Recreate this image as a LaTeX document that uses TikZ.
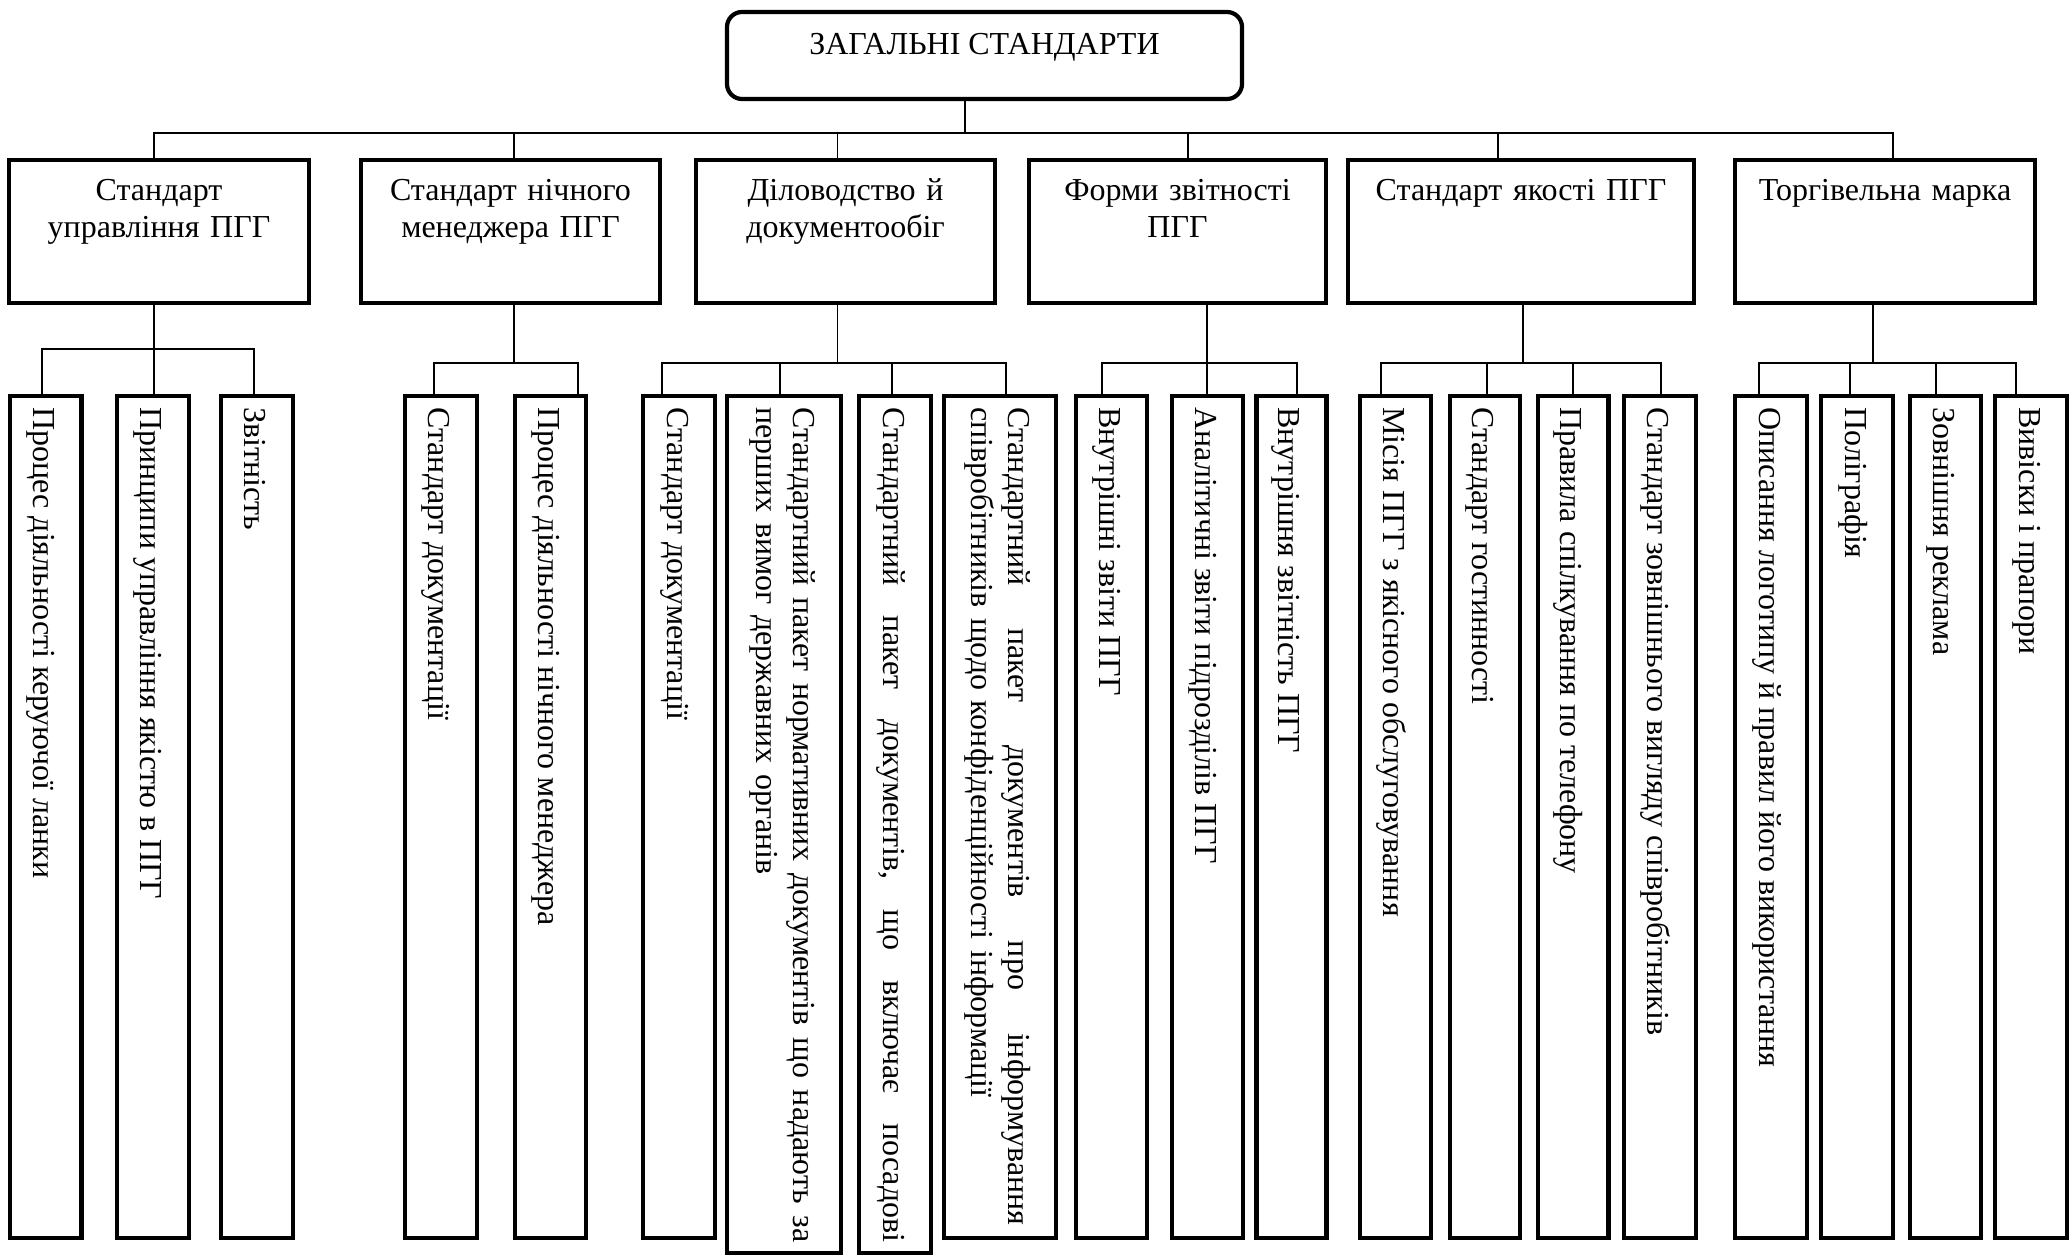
\documentclass[tikz,border=0pt]{standalone}
\usepackage{fontspec}
\setmainfont{Liberation Serif}
\usetikzlibrary{fit}
\newcommand{\labelfont}{\fontsize{16pt}{18.2pt}\selectfont}
\begin{document}
\begin{tikzpicture}[x=0.5pt,y=-0.5pt,
  frame/.style={draw, line width=2.1pt, inner sep=0pt},
  topframe/.style={frame, rounded corners=7.5pt},
  link/.style={line width=0.9pt},
  htext/.style={inner sep=0pt, anchor=base, align=center, font=\labelfont},
  vtext/.style={inner sep=0pt, rotate=-90, anchor=base west, align=left, font=\labelfont}]
\useasboundingbox (0,0) rectangle (2071,1256);
\fill[white] (0,0) rectangle (2071,1256);

% ---------- root ----------
\node[topframe, fit={(727,12) (1242,99)}] (root) {};
\node[htext] (roott) at (984.5,55) {ЗАГАЛЬНІ СТАНДАРТИ};

% ---------- first level ----------
\node[frame, fit={(9,160) (309,303)}]    (b1) {};
\node[frame, fit={(361,160) (660,303)}]  (b2) {};
\node[frame, fit={(696,160) (995,303)}]  (b3) {};
\node[frame, fit={(1029,160) (1326,303)}] (b4) {};
\node[frame, fit={(1348,160) (1694,303)}] (b5) {};
\node[frame, fit={(1735,160) (2035,303)}] (b6) {};

\node[htext, text width=145pt] (t1) at (159,201)    {Стандарт\\управління ПГГ};
\node[htext, text width=145pt] (t2) at (510.5,201)  {Стандарт нічного\\менеджера ПГГ};
\node[htext, text width=145pt] (t3) at (845.5,201)  {Діловодство й\\документообіг};
\node[htext, text width=145pt] (t4) at (1177.5,201) {Форми звітності\\ПГГ};
\node[htext, text width=170pt] (t5) at (1521,201)   {Стандарт якості ПГГ};
\node[htext, text width=145pt] (t6) at (1885,201)   {Торгівельна марка};

% ---------- second level ----------
\node[frame, fit={(10,396) (81.5,1238)}]      (L1a) {};
\node[frame, fit={(117,396) (188.6,1238)}]    (L1b) {};
\node[frame, fit={(220.75,396) (292.6,1238)}] (L1c) {};
\node[frame, fit={(405,396) (476.6,1238)}]    (L2a) {};
\node[frame, fit={(515,396) (586,1238)}]      (L2b) {};
\node[frame, fit={(643,396) (715,1238)}]      (L3a) {};
\node[frame, fit={(727,396) (841,1253)}]      (L3b) {};
\node[frame, fit={(859,396) (931,1253)}]      (L3c) {};
\node[frame, fit={(944,396) (1056,1238)}]     (L3d) {};
\node[frame, fit={(1076,396) (1147,1238)}]    (L4a) {};
\node[frame, fit={(1172,396) (1243,1238)}]    (L4b) {};
\node[frame, fit={(1256.4,396) (1326.5,1238)}] (L4c) {};
\node[frame, fit={(1360,396) (1431,1238)}]    (L5a) {};
\node[frame, fit={(1450,396) (1520,1238)}]    (L5b) {};
\node[frame, fit={(1538,396) (1608.5,1238)}]  (L5c) {};
\node[frame, fit={(1624,396) (1695.6,1238)}]  (L5d) {};
\node[frame, fit={(1735,396) (1807,1238)}]    (L6a) {};
\node[frame, fit={(1821,396) (1893,1238)}]    (L6b) {};
\node[frame, fit={(1910,396) (1981,1238)}]    (L6c) {};
\node[frame, fit={(1995,396) (2067,1238)}]    (L6d) {};

% rotated labels (reading downwards)
\node[vtext] (v1a) at (33.5,407)   {Процес діяльності керуючої ланки};
\node[vtext] (v1b) at (140.6,407)  {Принципи управління якістю в ПГГ};
\node[vtext] (v1c) at (244.6,407)  {Звітність};
\node[vtext] (v2a) at (428.6,407)  {Стандарт документації};
\node[vtext] (v2b) at (538,407)    {Процес діяльності нічного менеджера};
\node[vtext] (v3a) at (667,407)    {Стандарт документації};
\node[vtext, text width=420pt] (v3b) at (793,407)
  {\makebox[417.5pt][l]{Стандартний \hfill пакет \hfill нормативних \hfill документів \hfill що \hfill надають \hfill за}\\
   перших вимог державних органів};
\node[vtext] (v3c) at (883,407)
  {\makebox[417.5pt][l]{Стандартний \hfill пакет \hfill документів, \hfill що \hfill включає \hfill посадові}};
\node[vtext, text width=420pt] (v3d) at (1008,407)
  {\makebox[409pt][l]{Стандартний \hfill пакет \hfill документів \hfill про \hfill інформування}\\
   співробітників щодо конфіденційності інформації};
\node[vtext] (v4a) at (1099,407)   {Внутрішні звіти ПГГ};
\node[vtext] (v4b) at (1195,407)   {Аналітичні звіти підрозділів ПГГ};
\node[vtext] (v4c) at (1278.5,407) {Внутрішня звітність ПГГ};
\node[vtext] (v5a) at (1383,407)   {Місія ПГГ з якісного обслуговування};
\node[vtext] (v5b) at (1472,407)   {Стандарт гостинності};
\node[vtext] (v5c) at (1560.5,407) {Правила спілкування по телефону};
\node[vtext] (v5d) at (1647.6,407) {Стандарт зовнішнього вигляду співробітників};
\node[vtext] (v6a) at (1759,407)   {Описання логотипу й правил його використання};
\node[vtext] (v6b) at (1845,407)   {Поліграфія};
\node[vtext] (v6c) at (1933,407)   {Зовнішня реклама};
\node[vtext] (v6d) at (2019,407)   {Вивіски і прапори};

% ---------- connectors: root to first level ----------
\coordinate (r0) at (965,132.7);
\coordinate (d1) at (154,132.7);
\coordinate (d2) at (514,132.7);
\coordinate (d3) at (837.5,132.7);
\coordinate (d4) at (1188,132.7);
\coordinate (d5) at (1498,132.7);
\coordinate (d6) at (1893,132.7);
\draw[link] (root.south -| r0) -- (r0);
\draw[link] (b1.north -| d1) |- (d6) -- (b6.north -| d6);
\foreach \k in {2,3,4,5} \draw[link] (d\k) -- (b\k.north -| d\k);

% ---------- connectors: first to second level ----------
% group 1
\coordinate (e1a) at (42,349);
\coordinate (e1b) at (154,349);
\coordinate (e1c) at (254,349);
\draw[link] (L1a.north -| e1a) |- (e1c) -- (L1c.north -| e1c);
\draw[link] (b1.south -| e1b) -- (L1b.north -| e1b);
% group 2
\coordinate (g2) at (514,362.7);
\coordinate (e2a) at (434,362.7);
\coordinate (e2b) at (578,362.7);
\draw[link] (L2a.north -| e2a) |- (e2b) -- (L2b.north -| e2b);
\draw[link] (b2.south -| g2) -- (g2);
% group 3
\coordinate (g3) at (837.5,362.7);
\coordinate (e3a) at (662,362.7);
\coordinate (e3b) at (780,362.7);
\coordinate (e3c) at (892,362.7);
\coordinate (e3d) at (1006,362.7);
\draw[link] (L3a.north -| e3a) |- (e3d) -- (L3d.north -| e3d);
\draw[link] (e3b) -- (L3b.north -| e3b);
\draw[link] (e3c) -- (L3c.north -| e3c);
\draw[link] (b3.south -| g3) -- (g3);
% group 4
\coordinate (e4a) at (1101.7,362.7);
\coordinate (e4b) at (1206.6,362.7);
\coordinate (e4c) at (1297,362.7);
\draw[link] (L4a.north -| e4a) |- (e4c) -- (L4c.north -| e4c);
\draw[link] (b4.south -| e4b) -- (L4b.north -| e4b);
% group 5
\coordinate (g5) at (1522.7,362.7);
\coordinate (e5a) at (1380.6,362.7);
\coordinate (e5b) at (1486.8,362.7);
\coordinate (e5c) at (1573,362.7);
\coordinate (e5d) at (1660.8,362.7);
\draw[link] (L5a.north -| e5a) |- (e5d) -- (L5d.north -| e5d);
\draw[link] (e5b) -- (L5b.north -| e5b);
\draw[link] (e5c) -- (L5c.north -| e5c);
\draw[link] (b5.south -| g5) -- (g5);
% group 6
\coordinate (g6) at (1873,362.7);
\coordinate (e6a) at (1759,362.7);
\coordinate (e6b) at (1850,362.7);
\coordinate (e6c) at (1936,362.7);
\coordinate (e6d) at (2016,362.7);
\draw[link] (L6a.north -| e6a) |- (e6d) -- (L6d.north -| e6d);
\draw[link] (e6b) -- (L6b.north -| e6b);
\draw[link] (e6c) -- (L6c.north -| e6c);
\draw[link] (b6.south -| g6) -- (g6);
\end{tikzpicture}
\end{document}
